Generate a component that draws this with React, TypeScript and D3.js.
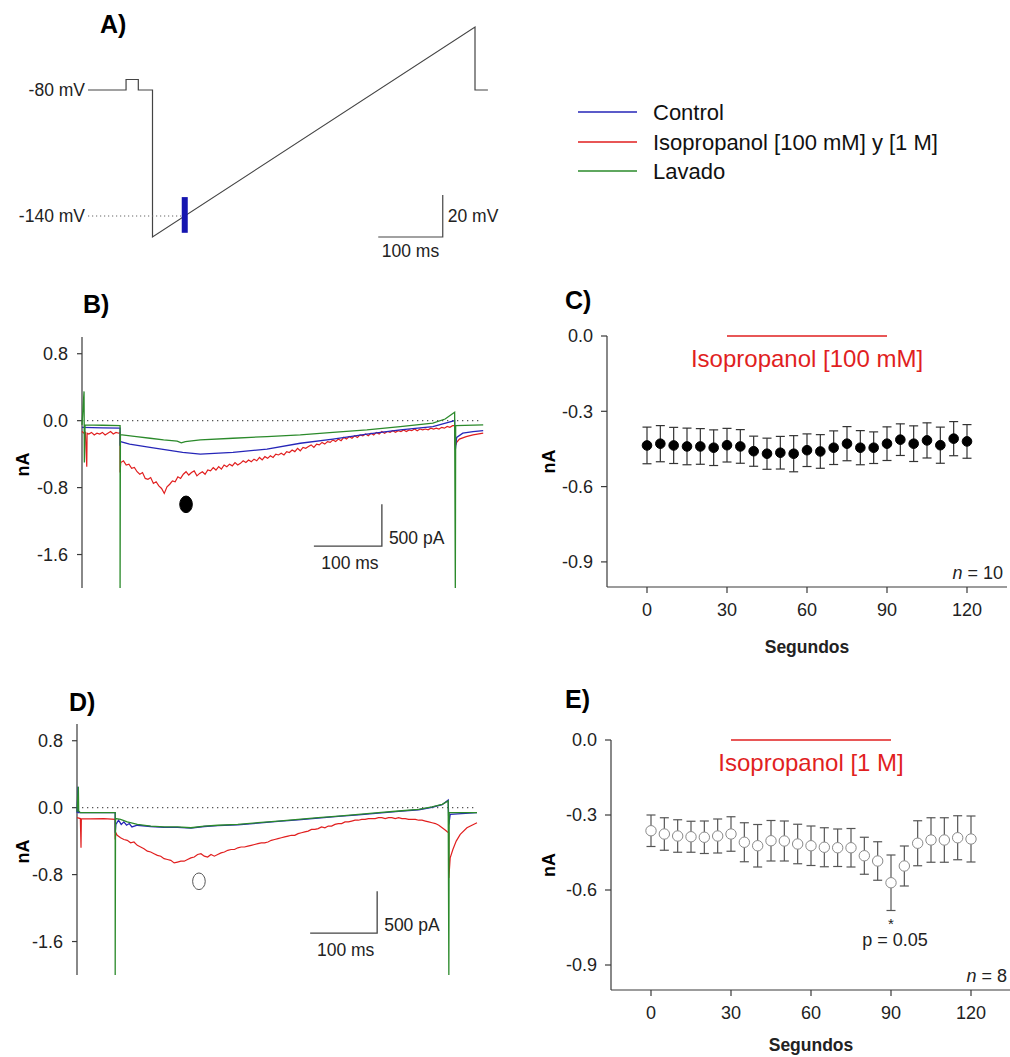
import React from "react";
import * as d3 from "d3";

const FONT = "'Liberation Sans', Arial, Helvetica, sans-serif";
const BLUE = "#2626b8";
const RED = "#e11f1f";
const GREEN = "#2b8a2b";
const AXIS = "#3a3a3a";

type P = [number, number];

// ---------- Panel A: voltage protocol (ms, mV) ----------
const protocolTime = [0, 59, 59, 78, 78, 100, 100, 600, 600, 620];
const protocolMv = [-80, -80, -75, -75, -80, -80, -150, -50, -80, -80];
const markerTimeA = 150;
const markerSpanA = [-131, -148];
const holdingMv = [-80, -140];
const holdingText = ["-80 mV", "-140 mV"];
const scaleBarA = { t: [450, 550], mv: [-150, -130] };

// ---------- Legend ----------
const legendLabels = ["Control", "Isopropanol [100 mM] y [1 M]", "Lavado"];

// ---------- Panel B traces (ms, nA) ----------
const greenB: P[] = [[0, -0.05], [3, 0.35], [3.5, -0.5], [4.5, -0.05], [30, -0.055], [56, -0.06], [56, -2.0], [56.5, -0.17], [59, -0.17], [80, -0.19], [100, -0.21], [120, -0.23], [140, -0.245], [146, -0.265], [152, -0.25], [174, -0.23], [222, -0.21], [272, -0.19], [321, -0.17], [369, -0.14], [419, -0.11], [468, -0.07], [516, -0.03], [534, 0.02], [548, 0.1], [549, -2.0], [549.5, -0.06], [590, -0.05]];
const blueB: P[] = [[0, -0.08], [30, -0.085], [56, -0.09], [56, -0.3], [56.5, -0.25], [70, -0.28], [100, -0.32], [148, -0.38], [174, -0.4], [222, -0.38], [272, -0.34], [321, -0.27], [369, -0.22], [419, -0.16], [468, -0.11], [516, -0.07], [548, 0.0], [549, -0.35], [551, -0.2], [560, -0.15], [575, -0.13], [590, -0.12]];
const redBPre: P[] = [[0, -0.13], [3, -0.15], [5, -0.14], [7, -0.55], [7.5, -0.15], [10, -0.16], [14, -0.14], [18, -0.17], [22, -0.15], [26, -0.16], [30, -0.14], [34, -0.17], [38, -0.15], [42, -0.13], [46, -0.16], [50, -0.14], [54, -0.15], [56, -0.14], [56, -0.62]];
const redBRampStart = 57;
const redBRampStep = 4;
const redBRamp = [-0.50, -0.48, -0.53, -0.52, -0.57, -0.56, -0.61, -0.64, -0.62, -0.69, -0.70, -0.68, -0.75, -0.73, -0.78, -0.81, -0.87, -0.79, -0.76, -0.72, -0.73, -0.67, -0.69, -0.64, -0.61, -0.65, -0.62, -0.60, -0.66, -0.63, -0.61, -0.64, -0.59, -0.60, -0.56, -0.59, -0.55, -0.58, -0.53, -0.55, -0.52, -0.54, -0.50, -0.53, -0.51, -0.48, -0.50, -0.47, -0.49, -0.46, -0.48, -0.44, -0.47, -0.43, -0.45, -0.42, -0.44, -0.40, -0.41, -0.39, -0.41, -0.37, -0.38, -0.35, -0.37, -0.33, -0.36, -0.32, -0.33, -0.31, -0.29, -0.32, -0.28, -0.29, -0.26, -0.28, -0.25, -0.26, -0.23, -0.25, -0.22, -0.24, -0.20, -0.22, -0.19, -0.21, -0.18, -0.20, -0.17, -0.18, -0.16, -0.18, -0.15, -0.17, -0.14, -0.16, -0.13, -0.15, -0.13, -0.14, -0.12, -0.14, -0.12, -0.13, -0.11, -0.13, -0.11, -0.12, -0.10, -0.12, -0.10, -0.11, -0.10, -0.11, -0.09, -0.10, -0.09, -0.10, -0.08, -0.09, -0.07, -0.08, -0.06];
const redBPost: P[] = [[548, -0.06], [549, -0.3], [551, -0.26], [555, -0.22], [565, -0.19], [575, -0.17], [590, -0.15]];
const markerB: P = [153, -1.0];
const scaleBarB = { t: [341, 441], nA: [-1.5, -1.0] };

// ---------- Panel D traces (ms, nA) ----------
const greenD: P[] = [[0, -0.05], [2, 0.25], [2.5, -0.04], [5, -0.06], [57, -0.06], [57, -2.0], [57.5, -0.13], [65, -0.14], [75, -0.17], [90, -0.2], [110, -0.22], [130, -0.23], [150, -0.23], [170, -0.24], [190, -0.22], [210, -0.21], [240, -0.2], [270, -0.18], [300, -0.16], [330, -0.14], [360, -0.12], [390, -0.1], [420, -0.08], [450, -0.06], [480, -0.04], [510, -0.02], [530, 0.01], [545, 0.04], [554, 0.08], [555, -2.0], [555.5, -0.06], [597, -0.06]];
const blueD: P[] = [[0, -0.06], [1.5, 0.25], [2, -0.06], [57, -0.06], [57, -0.3], [58, -0.2], [62, -0.15], [66, -0.2], [70, -0.17], [74, -0.21], [78, -0.19], [82, -0.23], [90, -0.21], [110, -0.225], [130, -0.235], [150, -0.235], [170, -0.245], [190, -0.225], [210, -0.215], [240, -0.205], [270, -0.185], [300, -0.165], [330, -0.145], [360, -0.125], [390, -0.105], [420, -0.085], [450, -0.065], [480, -0.045], [510, -0.025], [530, 0.005], [545, 0.035], [554, 0.09], [555, -0.2], [557, -0.08], [597, -0.06]];
const redDPre: P[] = [[0, -0.12], [5, -0.13], [6, -0.48], [6.5, -0.13], [20, -0.135], [40, -0.13], [57, -0.14], [57, -0.38], [58, -0.3]];
const redDRampStart = 60;
const redDRampStep = 5;
const redDRamp = [-0.33, -0.36, -0.38, -0.39, -0.42, -0.41, -0.45, -0.47, -0.49, -0.52, -0.53, -0.55, -0.57, -0.58, -0.61, -0.62, -0.63, -0.66, -0.65, -0.64, -0.64, -0.62, -0.60, -0.59, -0.56, -0.55, -0.58, -0.59, -0.56, -0.58, -0.56, -0.54, -0.53, -0.51, -0.50, -0.50, -0.48, -0.47, -0.47, -0.46, -0.45, -0.44, -0.43, -0.42, -0.42, -0.41, -0.39, -0.38, -0.37, -0.36, -0.35, -0.34, -0.33, -0.33, -0.31, -0.30, -0.29, -0.28, -0.26, -0.26, -0.25, -0.23, -0.24, -0.22, -0.22, -0.20, -0.19, -0.19, -0.17, -0.17, -0.16, -0.15, -0.15, -0.14, -0.14, -0.13, -0.13, -0.13, -0.12, -0.12, -0.13, -0.12, -0.12, -0.13, -0.12, -0.13, -0.13, -0.14, -0.14, -0.14, -0.15, -0.15, -0.16, -0.17, -0.18, -0.19, -0.21, -0.24, -0.27];
const redDPost: P[] = [[553, -0.29], [555, -0.3], [555, -0.84], [557, -0.6], [561, -0.5], [566, -0.4], [572, -0.32], [582, -0.24], [597, -0.18]];
const markerD: P = [182, -0.88];
const scaleBarD = { t: [348, 448], nA: [-1.5, -1.0] };

const traceTicks = [0.8, 0, -0.8, -1.6];

// ---------- Panels C and E: time course (s, nA) ----------
const seconds = [0, 5, 10, 15, 20, 25, 30, 35, 40, 45, 50, 55, 60, 65, 70, 75, 80, 85, 90, 95, 100, 105, 110, 115, 120];
const meanC = [-0.436, -0.429, -0.436, -0.44, -0.44, -0.445, -0.435, -0.44, -0.459, -0.469, -0.465, -0.469, -0.455, -0.46, -0.445, -0.429, -0.445, -0.445, -0.429, -0.413, -0.429, -0.416, -0.435, -0.409, -0.42];
const semC = [0.073, 0.072, 0.072, 0.073, 0.071, 0.071, 0.067, 0.067, 0.06, 0.062, 0.065, 0.072, 0.065, 0.067, 0.067, 0.068, 0.068, 0.063, 0.067, 0.063, 0.071, 0.07, 0.072, 0.068, 0.067];
const meanE = [-0.363, -0.376, -0.384, -0.387, -0.389, -0.384, -0.376, -0.409, -0.423, -0.403, -0.404, -0.416, -0.423, -0.429, -0.431, -0.431, -0.463, -0.484, -0.571, -0.504, -0.413, -0.4, -0.4, -0.391, -0.396];
const semE = [0.063, 0.065, 0.065, 0.062, 0.065, 0.068, 0.069, 0.078, 0.085, 0.081, 0.08, 0.079, 0.079, 0.078, 0.075, 0.077, 0.074, 0.077, 0.111, 0.08, 0.09, 0.089, 0.089, 0.088, 0.092];
const xTicksTime = [0, 30, 60, 90, 120];
const yTicksTime = [0, -0.3, -0.6, -0.9];
const drugWindow = [30, 90];
const drugLabelC = "Isopropanol [100 mM]";
const drugLabelE = "Isopropanol [1 M]";
const nC = "10";
const nE = "8";
const sigSecond = 90;
const sigText = "p = 0.05";

const fmt = (v: number) => v.toFixed(1);

function rampPoints(start: number, step: number, vals: number[]): P[] {
  return vals.map((v, i) => [start + step * i, v] as P);
}

function TracePanel(props: {
  x: d3.ScaleLinear<number, number>;
  y: d3.ScaleLinear<number, number>;
  red: P[]; blue: P[]; green: P[];
  marker: P; filled: boolean;
  bar: { t: number[]; nA: number[] };
  label: string; labelX: number; labelY: number;
  nAx: number;
}) {
  const { x, y } = props;
  const line = d3.line<P>().x((d) => x(d[0])).y((d) => y(d[1]));
  const [x0] = x.range();
  const yDom = y.domain();
  const xDom = x.domain();
  return (
    <g>
      <text x={props.labelX} y={props.labelY} fontSize={25} fontWeight="bold" fontFamily={FONT}>{props.label}</text>
      <line x1={x0} x2={x0} y1={y(yDom[1])} y2={y(yDom[0])} stroke={AXIS} strokeWidth={1.2} />
      {traceTicks.map((t) => (
        <g key={t}>
          <line x1={x0 - 5} x2={x0} y1={y(t)} y2={y(t)} stroke={AXIS} strokeWidth={1.2} />
          <text x={x0 - 14} y={y(t)} dy="0.36em" textAnchor="end" fontSize={18} fontFamily={FONT} fill="#222">{fmt(t)}</text>
        </g>
      ))}
      <text transform={`translate(${props.nAx},${(y(yDom[0]) + y(yDom[1])) / 2 + 2}) rotate(-90)`} textAnchor="middle" fontSize={18} fontWeight="bold" fontFamily={FONT}>nA</text>
      <line x1={x0} x2={x(xDom[1]) - 3} y1={y(0)} y2={y(0)} stroke="#555" strokeWidth={1.3} strokeDasharray="1.3,3.7" />
      <path d={line(props.red) || ""} fill="none" stroke={RED} strokeWidth={1.2} />
      <path d={line(props.blue) || ""} fill="none" stroke={BLUE} strokeWidth={1.3} />
      <path d={line(props.green) || ""} fill="none" stroke={GREEN} strokeWidth={1.3} />
      <ellipse cx={x(props.marker[0])} cy={y(props.marker[1])} rx={6.3} ry={8.3}
        fill={props.filled ? "#000" : "#fff"} stroke={props.filled ? "#000" : "#555"} strokeWidth={1} />
      <path d={`M${x(props.bar.t[0])},${y(props.bar.nA[0])}H${x(props.bar.t[1])}V${y(props.bar.nA[1])}`} fill="none" stroke="#444" strokeWidth={1.3} />
      <text x={x(props.bar.t[1]) + 7} y={(y(props.bar.nA[0]) + y(props.bar.nA[1])) / 2 + 19} fontSize={17.5} fontFamily={FONT} fill="#222">500 pA</text>
      <text x={(x(props.bar.t[0]) + x(props.bar.t[1])) / 2 + 2} y={y(props.bar.nA[0]) + 23} textAnchor="middle" fontSize={17.5} fontFamily={FONT} fill="#222">100 ms</text>
    </g>
  );
}

function TimePanel(props: {
  x: d3.ScaleLinear<number, number>;
  y: d3.ScaleLinear<number, number>;
  mean: number[]; sem: number[]; filled: boolean;
  label: string; labelX: number; labelY: number;
  drug: string; n: string; nAx: number; sig?: boolean; titleDy: number;
}) {
  const { x, y } = props;
  const [x0, x1] = x.range();
  const [yb, yt] = y.range();
  const barColor = props.filled ? "#333" : "#555";
  return (
    <g fontFamily={FONT}>
      <text x={props.labelX} y={props.labelY} fontSize={25} fontWeight="bold">{props.label}</text>
      <line x1={x0} x2={x0} y1={yt} y2={yb} stroke={AXIS} strokeWidth={1.2} />
      <line x1={x0} x2={x1} y1={yb} y2={yb} stroke={AXIS} strokeWidth={1.2} />
      {yTicksTime.map((t) => (
        <g key={t}>
          <line x1={x0 - 6} x2={x0} y1={y(t)} y2={y(t)} stroke={AXIS} strokeWidth={1.2} />
          <text x={x0 - 14} y={y(t)} dy="0.36em" textAnchor="end" fontSize={18} fill="#222">{fmt(t)}</text>
        </g>
      ))}
      {xTicksTime.map((t) => (
        <g key={t}>
          <line x1={x(t)} x2={x(t)} y1={yb} y2={yb + 6} stroke={AXIS} strokeWidth={1.2} />
          <text x={x(t)} y={yb + 29} textAnchor="middle" fontSize={18} fill="#222">{t}</text>
        </g>
      ))}
      <text x={x(60)} y={yb + props.titleDy} textAnchor="middle" fontSize={17.5} fontWeight="bold" fill="#222">Segundos</text>
      <text transform={`translate(${props.nAx},${(yb + yt) / 2}) rotate(-90)`} textAnchor="middle" fontSize={18} fontWeight="bold">nA</text>
      <line x1={x(drugWindow[0])} x2={x(drugWindow[1])} y1={y(0)} y2={y(0)} stroke={RED} strokeWidth={1.5} />
      <text x={x((drugWindow[0] + drugWindow[1]) / 2)} y={y(0) + 31} textAnchor="middle" fontSize={24} fill={RED}>{props.drug}</text>
      <text x={x1 - 4} y={yb - 8} textAnchor="end" fontSize={18} fill="#222"><tspan fontStyle="italic">n</tspan> = {props.n}</text>
      {seconds.map((s, i) => {
        const m = props.mean[i];
        const e = props.sem[i];
        const cx = x(s);
        return (
          <g key={s}>
            <line x1={cx} x2={cx} y1={y(m + e)} y2={y(m - e)} stroke={barColor} strokeWidth={1.2} />
            <line x1={cx - 4.5} x2={cx + 4.5} y1={y(m + e)} y2={y(m + e)} stroke={barColor} strokeWidth={1.2} />
            <line x1={cx - 4.5} x2={cx + 4.5} y1={y(m - e)} y2={y(m - e)} stroke={barColor} strokeWidth={1.2} />
            <circle cx={cx} cy={y(m)} r={props.filled ? 4.8 : 5.2}
              fill={props.filled ? "#000" : "#fff"} stroke={props.filled ? "#000" : "#8a8a8a"} strokeWidth={1} />
          </g>
        );
      })}
      {props.sig && (() => {
        const i = seconds.indexOf(sigSecond);
        const yy = y(props.mean[i] - props.sem[i]);
        return (
          <g>
            <text x={x(sigSecond)} y={yy + 18} textAnchor="middle" fontSize={15} fill="#222">*</text>
            <text x={x(sigSecond) + 4} y={yy + 35} textAnchor="middle" fontSize={18} fill="#222">{sigText}</text>
          </g>
        );
      })()}
    </g>
  );
}

export default function App() {
  // Panel A
  const xA = d3.scaleLinear().domain([0, 100]).range([88, 152.5]);
  const yA = d3.scaleLinear().domain([-80, -140]).range([90, 216]);
  const protoPts: P[] = protocolTime.map((t, i) => [t, protocolMv[i]] as P);
  const lineA = d3.line<P>().x((d) => xA(d[0])).y((d) => yA(d[1]));

  // Panel B / D
  const xB = d3.scaleLinear().domain([0, 590]).range([82, 82 + 590 * 0.68]);
  const yB = d3.scaleLinear().domain([-2, 1]).range([588, 337]);
  const xD = d3.scaleLinear().domain([0, 600]).range([77, 479]);
  const yD = d3.scaleLinear().domain([-2, 1]).range([975, 724]);
  const redB = [...redBPre, ...rampPoints(redBRampStart, redBRampStep, redBRamp), ...redBPost];
  const redD = [...redDPre, ...rampPoints(redDRampStart, redDRampStep, redDRamp), ...redDPost];

  // Panel C / E
  const xC = d3.scaleLinear().domain([-15, 135]).range([607, 1007]);
  const yC = d3.scaleLinear().domain([-1, 0]).range([587, 336]);
  const xE = d3.scaleLinear().domain([-15, 135]).range([611, 1011]);
  const yE = d3.scaleLinear().domain([-1, 0]).range([990, 740]);

  const legendColors = [BLUE, RED, GREEN];
  const legendY = [112, 142, 171];

  return (
    <svg width={1010} height={1057} style={{ position: "absolute", left: 0, top: 0, background: "#fff" }} fontFamily={FONT}>
      <rect x={0} y={0} width={1010} height={1057} fill="#fff" />
      {/* Panel A */}
      <text x={100} y={33} fontSize={25} fontWeight="bold">A)</text>
      <path d={lineA(protoPts) || ""} fill="none" stroke="#444" strokeWidth={1.2} />
      {holdingMv.map((mv, i) => (
        <text key={mv} x={85} y={yA(mv)} dy="0.36em" textAnchor="end" fontSize={17.5} fill="#222">{holdingText[i]}</text>
      ))}
      <line x1={88} x2={xA(markerTimeA)} y1={yA(-140)} y2={yA(-140)} stroke="#666" strokeWidth={1.2} strokeDasharray="1.2,2.8" />
      <rect x={xA(markerTimeA) - 3} y={yA(markerSpanA[0])} width={6} height={yA(markerSpanA[1]) - yA(markerSpanA[0])} fill="#1515b0" />
      <path d={`M${xA(scaleBarA.t[0])},${yA(scaleBarA.mv[0])}H${xA(scaleBarA.t[1])}V${yA(scaleBarA.mv[1])}`} fill="none" stroke="#444" strokeWidth={1.2} />
      <text x={xA(scaleBarA.t[1]) + 5} y={yA(-140)} dy="0.36em" fontSize={17.5} fill="#222">20 mV</text>
      <text x={(xA(scaleBarA.t[0]) + xA(scaleBarA.t[1])) / 2} y={yA(scaleBarA.mv[0]) + 20} textAnchor="middle" fontSize={17.5} fill="#222">100 ms</text>

      {/* Legend */}
      {legendLabels.map((l, i) => (
        <g key={l}>
          <rect x={578} y={legendY[i] - 0.75} width={59} height={1.5} fill={legendColors[i]} />
          <text x={653} y={legendY[i]} dy="0.36em" fontSize={22} fill="#111">{l}</text>
        </g>
      ))}

      <TracePanel x={xB} y={yB} red={redB} blue={blueB} green={greenB} marker={markerB} filled={true}
        bar={scaleBarB} label="B)" labelX={83} labelY={313} nAx={29} />
      <TracePanel x={xD} y={yD} red={redD} blue={blueD} green={greenD} marker={markerD} filled={false}
        bar={scaleBarD} label="D)" labelX={69} labelY={711} nAx={29} />

      <TimePanel x={xC} y={yC} mean={meanC} sem={semC} filled={true} label="C)" labelX={565} labelY={309}
        drug={drugLabelC} n={nC} nAx={555} titleDy={66} />
      <TimePanel x={xE} y={yE} mean={meanE} sem={semE} filled={false} label="E)" labelX={565} labelY={708}
        drug={drugLabelE} n={nE} nAx={555} sig={true} titleDy={61} />
    </svg>
  );
}
